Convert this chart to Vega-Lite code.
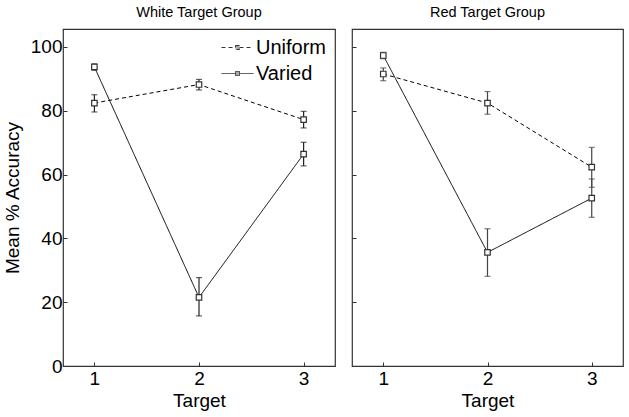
{
  "$schema": "https://vega.github.io/schema/vega-lite/v6.json",
  "background": "white",
  "padding": {"left": 2, "top": 3, "right": 5, "bottom": 0},
  "datasets": {
    "acc": [
      {"group": "White", "condition": "Uniform", "target": 1, "mean": 82.4, "lo": 79.6, "hi": 85.0},
      {"group": "White", "condition": "Uniform", "target": 2, "mean": 88.2, "lo": 86.5, "hi": 89.8},
      {"group": "White", "condition": "Uniform", "target": 3, "mean": 77.2, "lo": 74.6, "hi": 79.8},
      {"group": "White", "condition": "Varied", "target": 1, "mean": 93.7, "lo": 92.7, "hi": 94.7},
      {"group": "White", "condition": "Varied", "target": 2, "mean": 21.5, "lo": 15.7, "hi": 27.7},
      {"group": "White", "condition": "Varied", "target": 3, "mean": 66.4, "lo": 62.7, "hi": 70.1},
      {"group": "Red", "condition": "Uniform", "target": 1, "mean": 91.5, "lo": 89.4, "hi": 93.4},
      {"group": "Red", "condition": "Uniform", "target": 2, "mean": 82.4, "lo": 78.9, "hi": 86.0},
      {"group": "Red", "condition": "Uniform", "target": 3, "mean": 62.3, "lo": 56.0, "hi": 68.5},
      {"group": "Red", "condition": "Varied", "target": 1, "mean": 97.3, "lo": 96.3, "hi": 98.3},
      {"group": "Red", "condition": "Varied", "target": 2, "mean": 35.6, "lo": 28.1, "hi": 43.0},
      {"group": "Red", "condition": "Varied", "target": 3, "mean": 52.6, "lo": 46.6, "hi": 58.6}
    ]
  },
  "config": {
    "font": "Liberation Sans",
    "view": {"stroke": "#333", "strokeWidth": 1.2},
    "axis": {
      "domain": false, "grid": false,
      "tickSize": -4, "tickColor": "#333",
      "labelFontSize": 19, "labelColor": "black",
      "titleFontSize": 19, "titleFontWeight": "normal", "titleColor": "black"
    },
    "title": {"fontSize": 14.5, "fontWeight": "normal", "offset": 9}
  },
  "spacing": 14,
  "resolve": {"legend": {"strokeDash": "independent"}},
  "hconcat": [
    {
      "width": 272, "height": 337,
      "title": "White Target Group",
      "data": {"name": "acc"},
      "transform": [{"filter": "datum.group === 'White'"}],
      "encoding": {
        "x": {"field": "target", "type": "quantitative", "scale": {"domain": [0.7, 3.3], "nice": false, "zero": false},
              "axis": {"values": [1, 2, 3], "format": "d", "title": "Target", "labelPadding": 7, "titlePadding": 3}}
      },
      "layer": [
        {
          "mark": {"type": "line", "color": "black", "strokeWidth": 1},
          "encoding": {
            "y": {"field": "mean", "type": "quantitative", "scale": {"domain": [0, 105.6], "nice": false},
                  "axis": {"values": [0, 20, 40, 60, 80, 100], "title": "Mean % Accuracy", "titleFontSize": 19, "labelPadding": 5, "titlePadding": 8}},
            "strokeDash": {"field": "condition", "type": "nominal",
              "scale": {"domain": ["Uniform", "Varied"], "range": [[4, 3], [1, 0]]},
              "legend": {"title": null, "orient": "top-right", "labelFontSize": 20,
                "symbolType": "M-1.6,0H-0.2M0.2,0H1.6M-0.2,-0.2H0.2V0.2H-0.2Z",
                "symbolSize": 400, "symbolStrokeWidth": 1, "symbolStrokeColor": "#333", "symbolFillColor": "#aaa",
                "rowPadding": 5, "labelOffset": 8, "offset": 8, "padding": 0}}
          }
        },
        {
          "mark": {"type": "errorbar", "ticks": {"size": 6, "color": "#222"}, "color": "#222", "thickness": 1.2},
          "encoding": {
            "y": {"field": "lo", "type": "quantitative", "title": "Mean % Accuracy"},
            "y2": {"field": "hi"}
          }
        },
        {
          "mark": {"type": "point", "shape": "square", "filled": true, "fill": "white", "stroke": "#333", "strokeWidth": 1.2, "size": 30, "opacity": 1},
          "encoding": {"y": {"field": "mean", "type": "quantitative"}}
        }
      ]
    },
    {
      "width": 271, "height": 337,
      "title": "Red Target Group",
      "data": {"name": "acc"},
      "transform": [{"filter": "datum.group === 'Red'"}],
      "encoding": {
        "x": {"field": "target", "type": "quantitative", "scale": {"domain": [0.7, 3.3], "nice": false, "zero": false},
              "axis": {"values": [1, 2, 3], "format": "d", "title": "Target", "labelPadding": 7, "titlePadding": 3}}
      },
      "layer": [
        {
          "mark": {"type": "line", "color": "black", "strokeWidth": 1},
          "encoding": {
            "y": {"field": "mean", "type": "quantitative", "scale": {"domain": [0, 105.6], "nice": false},
                  "axis": {"values": [0, 20, 40, 60, 80, 100], "labels": false, "title": null}},
            "strokeDash": {"field": "condition", "type": "nominal",
              "scale": {"domain": ["Uniform", "Varied"], "range": [[4, 3], [1, 0]]}, "legend": null}
          }
        },
        {
          "mark": {"type": "errorbar", "ticks": {"size": 6, "color": "#444"}, "color": "#444", "thickness": 1.2},
          "encoding": {
            "y": {"field": "lo", "type": "quantitative"},
            "y2": {"field": "hi"}
          }
        },
        {
          "mark": {"type": "point", "shape": "square", "filled": true, "fill": "white", "stroke": "#333", "strokeWidth": 1.2, "size": 30, "opacity": 1},
          "encoding": {"y": {"field": "mean", "type": "quantitative"}}
        }
      ]
    }
  ]
}
